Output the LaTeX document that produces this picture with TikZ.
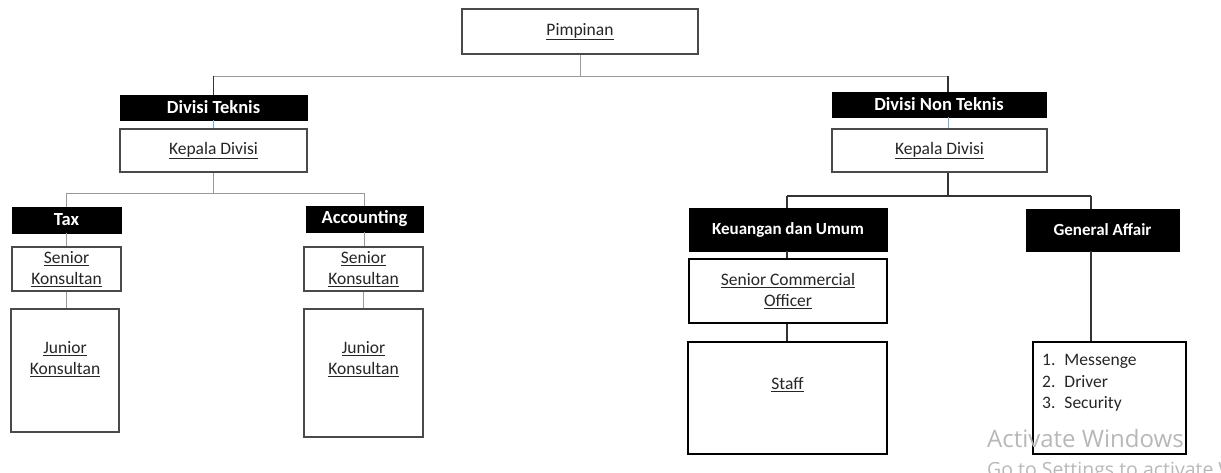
\documentclass[tikz,border=0pt]{standalone}
\usepackage{fontspec}
\setmainfont{Carlito}
\newfontfamily\wmfont{Open Sans}
\definecolor{boxgray}{HTML}{4A4A4A}
\definecolor{conngray}{HTML}{9A9A9A}
\definecolor{txt}{HTML}{262626}
\definecolor{selblue}{HTML}{7FA7D8}
\definecolor{wm}{HTML}{B8B8B8}
\begin{document}
\begin{tikzpicture}[x=1pt,y=-1pt,
  box/.style={draw=boxgray, line width=1.3pt, fill=white, inner sep=0pt, align=center,
    text=txt, font=\fontsize{17.5}{21.5}\selectfont},
  bbox/.style={box, draw=black, line width=1.8pt},
  hdr/.style={fill=black, draw=black, inner sep=0pt, text=white,
    font=\bfseries\fontsize{18.5}{22}\selectfont},
  hdrs/.style={hdr, font=\bfseries\fontsize{17}{20}\selectfont},
  lbl/.style={inner sep=0pt, align=center, text=txt, font=\fontsize{17.5}{21.5}\selectfont},
  conn/.style={draw=conngray, line width=0.9pt},
  dconn/.style={draw=black!80, line width=1.1pt},
  bconn/.style={draw=selblue, line width=0.8pt}]
\fill[white] (0,0) rectangle (1221,473);
\useasboundingbox (0,0) rectangle (1221,473);

% top
\node[box, minimum width=236pt, minimum height=45pt] (pim) at (580,31.5) {\underline{Pimpinan}};

% left division
\node[hdr, minimum width=187pt, minimum height=25pt] (dt) at (213.5,107.5) {Divisi Teknis};
\node[box, minimum width=187pt, minimum height=43pt] (kdt) at (213.5,150.5) {\underline{Kepala Divisi}};

\node[hdr, minimum width=109pt, minimum height=26pt] (tax) at (66.5,220) {Tax};
\node[box, minimum width=109pt, minimum height=44pt] (skt) at (66.5,269) {\underline{Senior}\\\underline{Konsultan}};
\node[box, minimum width=108pt, minimum height=123pt] (jkt) at (65,370.5) {};
\node[lbl] (jktt) at (65,359) {\underline{Junior}\\\underline{Konsultan}};

\node[hdr, minimum width=117pt, minimum height=26pt] (acc) at (364.5,219) {Accounting};
\node[box, minimum width=119pt, minimum height=44pt] (ska) at (363.5,269) {\underline{Senior}\\\underline{Konsultan}};
\node[box, minimum width=119pt, minimum height=128pt] (jka) at (363.5,373) {};
\node[lbl] (jkat) at (363.5,359) {\underline{Junior}\\\underline{Konsultan}};

% right division
\node[hdr, minimum width=214pt, minimum height=25pt] (dnt) at (939,104.5) {Divisi Non Teknis};
\node[box, minimum width=215pt, minimum height=43pt] (kdnt) at (939.5,150.5) {\underline{Kepala Divisi}};

\node[hdrs, minimum width=198pt, minimum height=43pt] (keu) at (788,229.5) {Keuangan dan Umum};
\node[box, draw=black, line width=1.5pt, minimum width=198pt, minimum height=64pt] (sco) at (788,291) {\underline{Senior Commercial}\\\underline{Officer}};
\node[bbox, minimum width=199pt, minimum height=112pt] (staff) at (787.5,398) {};
\node[lbl] (stafft) at (787.5,385) {\underline{Staff}};

\node[hdrs, minimum width=153pt, minimum height=42pt] (ga) at (1102.5,230) {General Affair};
\node[bbox, minimum width=153pt, minimum height=112pt] (msg) at (1109.5,398) {};
\node[lbl, anchor=west, align=left] (list) at (1042,383)
  {\begin{tabular}{@{}l@{\hspace{9pt}}l@{}}1. & Messenge\\ 2. & Driver\\ 3. & Security\end{tabular}};

% connectors top
\coordinate (t0) at (580,76);
\coordinate (tl) at (213.5,76);
\coordinate (tr) at (948,76);
\draw[conn] (pim.south) -- (t0);
\draw[conn] (tl) -- (tr);
\draw[dconn] (tl) -- (dt.north);
\draw[dconn] (tr) -- (tr |- dnt.north);
\draw[bconn] (dt.south) -- (kdt.north);
\draw[bconn] (dnt.south -| tr) -- (kdnt.north -| tr);

% connectors left
\coordinate (l0) at (213.5,193);
\coordinate (ll) at (66.5,193);
\coordinate (lr) at (364.5,193);
\draw[conn] (kdt.south) -- (l0);
\draw[conn] (ll) -- (lr);
\draw[conn] (ll) -- (tax.north);
\draw[conn] (lr) -- (acc.north);
\draw[conn] (tax.south) -- (skt.north);
\draw[conn] (skt.south) -- (skt.south |- jkt.north);
\draw[conn] (acc.south) -- (acc.south |- ska.north);
\draw[conn] (ska.south) -- (jka.north);

% connectors right
\coordinate (r0) at (948,196);
\coordinate (rl) at (787,196);
\coordinate (rr) at (1091,196);
\draw[dconn] (kdnt.south -| r0) -- (r0);
\draw[dconn] (rl) -- (rr);
\draw[dconn] (rl) -- (rl |- keu.north);
\draw[dconn] (rr) -- (rr |- ga.north);
\draw[dconn] (keu.south -| rl) -- (sco.north -| rl);
\draw[dconn] (sco.south -| rl) -- (staff.north -| rl);
\draw[dconn] (ga.south -| rr) -- (msg.north -| rr);

% watermark (cut off at the picture's edges, as in the reference)
\node[anchor=base west, inner sep=0pt, text=wm, font=\wmfont\fontsize{24}{24}\selectfont] (wm1) at (987,447) {Activate Windows};
\node[anchor=base west, inner sep=0pt, text=wm, font=\wmfont\fontsize{19.5}{20}\selectfont] (wm2) at (987,476) {Go to Settings to activate Windows.};
\end{tikzpicture}
\end{document}
